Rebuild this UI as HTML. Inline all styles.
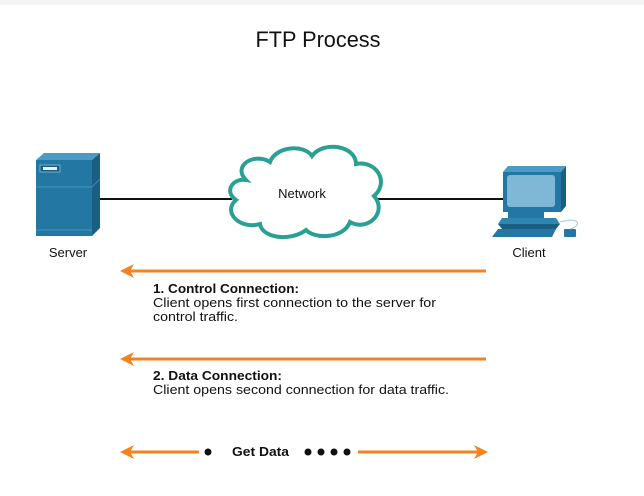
<!DOCTYPE html>
<html><head><style>
html,body{margin:0;padding:0;background:#fff;}
svg{display:block;}
text{font-family:"Liberation Sans",sans-serif;}
</style></head><body>
<svg width="644" height="496" viewBox="0 0 644 496">
<rect x="0" y="0" width="644" height="5" fill="#f3f3f3"/>
<text x="318" y="47" font-size="22" text-anchor="middle" fill="#111" textLength="125" lengthAdjust="spacingAndGlyphs">FTP Process</text>
<line x1="99" y1="199" x2="232" y2="199" stroke="#111" stroke-width="2"/>
<line x1="372" y1="199" x2="503" y2="199" stroke="#111" stroke-width="2"/>
<!-- server -->
<polygon points="36,160 44,153 100,153 92,160" fill="#4a9cc4"/>
<polygon points="92,160 100,153 100,228 92,236" fill="#1b5f80"/>
<rect x="36" y="160" width="56" height="76" fill="#2277a3"/>
<line x1="36" y1="187" x2="92" y2="187" stroke="#4a94bb" stroke-width="1"/>
<line x1="92" y1="187" x2="100" y2="179" stroke="#3d86ad" stroke-width="1"/>
<line x1="36" y1="230" x2="92" y2="230" stroke="#4a94bb" stroke-width="1"/>
<rect x="40" y="165" width="20" height="7" fill="#1a5d80" stroke="#6fb0d0" stroke-width="1"/>
<rect x="43" y="167" width="14" height="3" fill="#e8f4fa"/>
<text x="68" y="257" font-size="13" text-anchor="middle" fill="#111">Server</text>
<!-- cloud -->
<path d="M246,180 C232,166 254,152 270,162 C276,146 304,144 312,156 C324,140 356,146 356,164 C376,160 390,182 374,196 C388,212 368,232 350,222 C344,238 316,240 306,230 C290,242 262,238 260,224 C240,230 222,212 236,200 C224,192 232,178 246,180 Z" fill="#fff" stroke="#2aa094" stroke-width="4"/>
<text x="302" y="198" font-size="13" text-anchor="middle" fill="#111">Network</text>
<!-- client -->
<polygon points="503,172 508,166 566,166 561,172" fill="#4a9cc4"/>
<polygon points="561,172 566,166 566,206 561,212" fill="#1b5f80"/>
<rect x="503" y="172" width="58" height="40" fill="#2277a3"/>
<rect x="507" y="175" width="48" height="32" rx="3" fill="#7fb7d6"/>
<rect x="508" y="212" width="36" height="6" fill="#2277a3"/>
<polygon points="502,218 556,218 560,224 498,224" fill="#2e86b2"/>
<polygon points="498,224 560,224 556,229 502,229" fill="#1b5f80"/>
<polygon points="498,229 556,229 552,237 492,237" fill="#2277a3"/>
<rect x="564" y="229" width="12" height="8" rx="1" fill="#2277a3"/>
<path d="M560,222 C580,216 582,226 570,229" fill="none" stroke="#9ac6dd" stroke-width="1"/>
<text x="529" y="257" font-size="13" text-anchor="middle" fill="#111">Client</text>
<!-- arrows -->
<g stroke="#f58220" stroke-width="3" fill="none">
<line x1="126" y1="271" x2="486" y2="271"/>
<line x1="126" y1="359" x2="486" y2="359"/>
<line x1="126" y1="452" x2="199" y2="452"/>
<line x1="358" y1="452" x2="482" y2="452"/>
</g>
<g fill="#f58220">
<polygon points="120,271 134,264 130,271 134,278"/>
<polygon points="120,359 134,352 130,359 134,366"/>
<polygon points="120,452 134,445 130,452 134,459"/>
<polygon points="488,452 474,445 478,452 474,459"/>
</g>
<g font-size="13" fill="#111">
<text x="153" y="293" font-weight="bold" textLength="146" lengthAdjust="spacingAndGlyphs">1. Control Connection:</text>
<text x="153" y="307" textLength="283" lengthAdjust="spacingAndGlyphs">Client opens first connection to the server for</text>
<text x="153" y="321" textLength="85" lengthAdjust="spacingAndGlyphs">control traffic.</text>
<text x="153" y="380" font-weight="bold" textLength="129" lengthAdjust="spacingAndGlyphs">2. Data Connection:</text>
<text x="153" y="394" textLength="296" lengthAdjust="spacingAndGlyphs">Client opens second connection for data traffic.</text>
</g>
<g fill="#111">
<circle cx="208" cy="452" r="3.5"/>
<circle cx="308" cy="452" r="3.5"/>
<circle cx="321" cy="452" r="3.5"/>
<circle cx="334" cy="452" r="3.5"/>
<circle cx="347" cy="452" r="3.5"/>
</g>
<text x="232" y="456" font-size="13" font-weight="bold" fill="#111" textLength="57" lengthAdjust="spacingAndGlyphs">Get Data</text>
</svg>
</body></html>
